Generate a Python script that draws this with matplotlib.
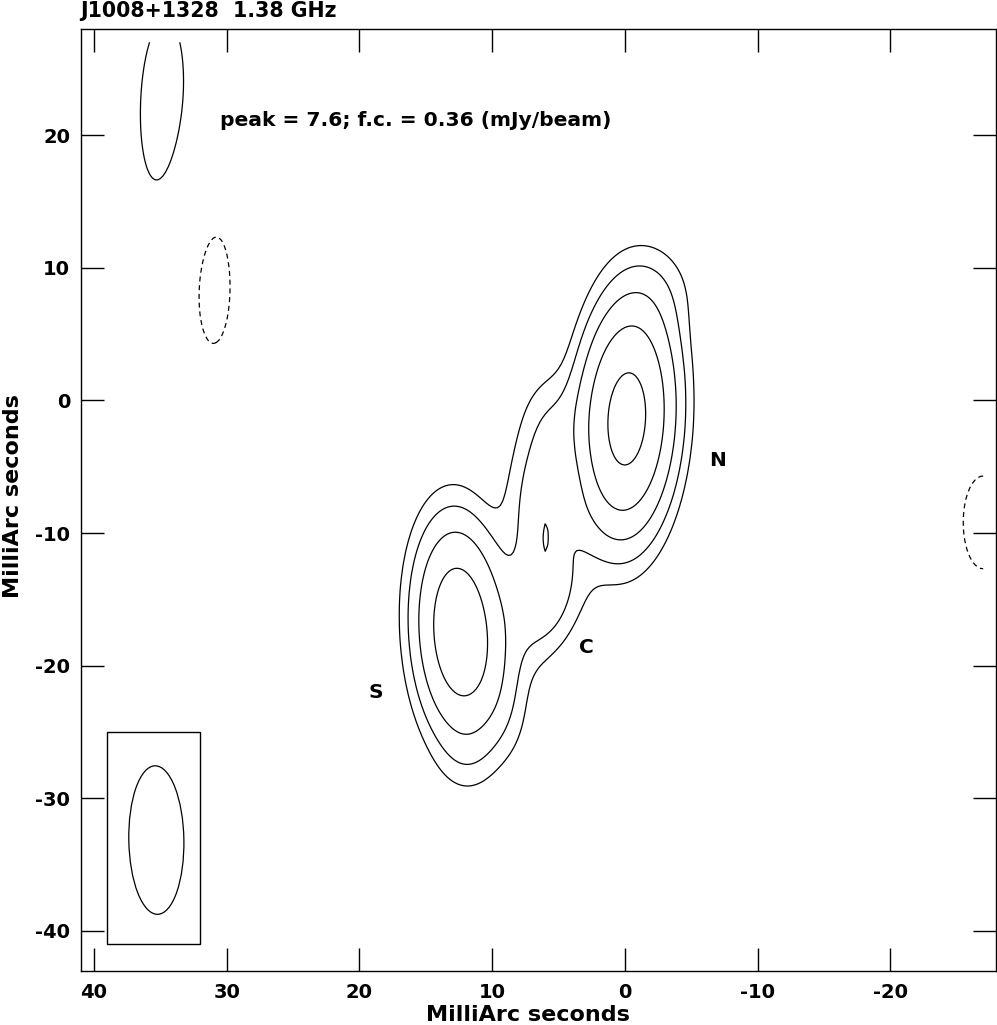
import numpy as np
import matplotlib
matplotlib.use("Agg")
import matplotlib.pyplot as plt
from matplotlib.patches import Ellipse, Rectangle

plt.rcParams['font.family'] = ['DejaVu Sans']
plt.rcParams['axes.unicode_minus'] = False

# ---- data ----
title = "J1008+1328  1.38 GHz"
peak = 7.6           # mJy/beam
fc = 0.36            # first contour, mJy/beam
level_mult = [-1, 1, 2, 4, 8, 16]

# Gaussian model components of the map (mas, mJy/beam, deg)
comp_name = ["N", "S", "bridge", "jet", "C", "knot", "dip", "N_ext", "S_ext", "S_tail",
             "blob_tl", "neg_a", "neg_b"]
comp_x   = [-0.15, 12.45, 6.75, 5.3, 5.89, 4.3, 6.0, -2.5, 9.3, 11.9, 34.8, 31.05, -27.0]
comp_y   = [-1.4, -17.4, -7.3, -1.5, -14.95, -8.8, -10.6, 8.5, -22.5, -27.0, 22.3, 8.7, -9.2]
comp_amp = [7.3, 4.6, 0.90, 0.35, 0.97, 0.15, -0.30, 0.30, 0.33, 0.15, 0.50, -0.45, -0.42]
comp_smin = [2.05, 2.0, 1.5, 1.5, 1.8, 1.2, 0.28, 2.2, 1.6, 1.5, 2.1, 2.0, 2.7]
comp_smaj = [5.05, 4.9, 4.5, 2.5, 3.3, 1.5, 1.8, 2.5, 3.5, 2.0, 8.0, 6.8, 6.3]
comp_pa  = [-3, 3, -4, 0, -16, 0, 0, 0, 10, 0, -2, 0, 0]

map_x_range = (-27.0, 41.0)
map_y_range = (-43.0, 27.1)

beam_x, beam_y = 35.3, -33.15
beam_major, beam_minor, beam_pa = 11.2, 4.15, 1.0
beam_box = (32.0, -41.0, 7.0, 16.0)   # x0, y0, width, height

labels = ["N", "C", "S"]
label_x = [-7.0, 2.9, 18.8]
label_y = [-4.55, -18.65, -22.0]

xticks = [40, 30, 20, 10, 0, -10, -20]
yticks = [20, 10, 0, -10, -20, -30, -40]
xlim = (41, -28)
ylim = (-43, 28)

# ---- build the map ----
gx = np.arange(map_x_range[0], map_x_range[1] + 1e-6, 0.2)
gy = np.arange(map_y_range[0], map_y_range[1] + 1e-6, 0.2)
X, Y = np.meshgrid(gx, gy)
Z = np.zeros_like(X)
for x0, y0, a, smn, smj, pa in zip(comp_x, comp_y, comp_amp, comp_smin, comp_smaj, comp_pa):
    t = np.deg2rad(pa)
    dx, dy = X - x0, Y - y0
    u = dx * np.sin(t) + dy * np.cos(t)
    v = dx * np.cos(t) - dy * np.sin(t)
    Z += a * np.exp(-0.5 * (u / smj) ** 2 - 0.5 * (v / smn) ** 2)

levels = [fc * m for m in level_mult]

# ---- figure ----
W, H = 997, 1025
fig = plt.figure(figsize=(W / 100, H / 100), dpi=100)
ax = fig.add_axes([80.7 / W, 1 - 970.7 / H, (996.4 - 80.7) / W, (970.7 - 29) / H])

ax.contour(X, Y, Z, levels=levels, colors='black', linewidths=0.9,
           negative_linestyles=(0, (4, 3)))

ax.add_patch(Rectangle((beam_box[0], beam_box[1]), beam_box[2], beam_box[3],
                       fill=False, edgecolor='black', linewidth=1.0))
ax.add_patch(Ellipse((beam_x, beam_y), beam_minor, beam_major, angle=-beam_pa,
                     fill=False, edgecolor='black', linewidth=0.9))

for s, lx, ly in zip(labels, label_x, label_y):
    ax.text(lx, ly, s, fontsize=14.5, fontweight='bold', ha='center', va='center')

ax.text(30.5, 20.7, f"peak = {peak}; f.c. = {fc} (mJy/beam)", fontsize=14.6,
        fontweight='bold', ha='left', va='baseline')

ax.set_xlim(*xlim)
ax.set_ylim(*ylim)
ax.set_xticks(xticks)
ax.set_yticks(yticks)
ax.tick_params(direction='in', length=16.5, width=1.0, top=True, right=True,
               labelsize=14)
ax.tick_params(axis='x', pad=8.5)
ax.tick_params(axis='y', pad=7.5)
for lab in ax.get_xticklabels() + ax.get_yticklabels():
    lab.set_fontweight('bold')
for sp in ax.spines.values():
    sp.set_linewidth(1.0)

ax.set_xlabel("MilliArc seconds", fontsize=16, fontweight='bold', va='baseline')
ax.xaxis.set_label_coords(0.4885, -0.0536)
ax.set_ylabel("MilliArc seconds", fontsize=16, fontweight='bold')
ax.yaxis.set_label_coords(-0.063, 0.504)

fig.text(80 / W, 1 - 17 / H, title, fontsize=14.8, fontweight='bold',
         ha='left', va='baseline')

fig.savefig("out.png", dpi=100)
